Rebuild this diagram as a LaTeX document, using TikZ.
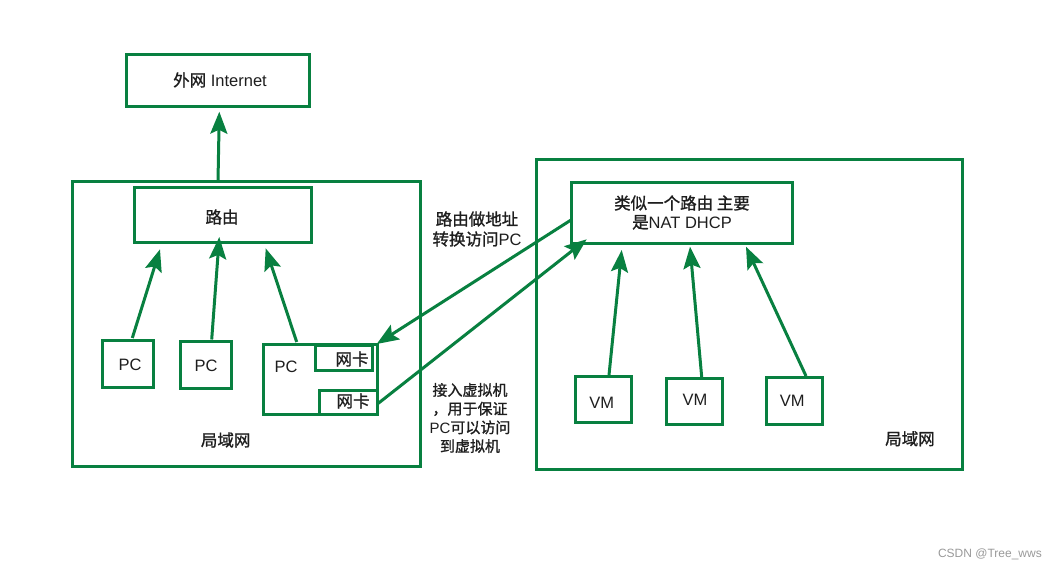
\documentclass[tikz,border=0pt]{standalone}
\usepackage{fontspec}
\setmainfont{Liberation Sans}
\newfontfamily\cjk[FakeBold=1.2]{Noto Sans CJK SC}
\usetikzlibrary{arrows.meta}
\definecolor{gr}{RGB}{8,128,64}
\definecolor{tx}{RGB}{30,30,30}
\tikzset{
  box/.style={draw=gr, line width=3pt, fill=none, inner sep=0pt},
  lbl/.style={text=tx, font=\fontsize{16.5}{19}\selectfont, inner sep=0pt, align=center},
  conn/.style={draw=gr, line width=3pt, -{Stealth[length=22pt,width=17pt,inset=4pt]}},
}
\begin{document}
\begin{tikzpicture}[x=1pt,y=-1pt]
\useasboundingbox (0,0) rectangle (1057,571);
% boxes
\node[box, minimum width=183, minimum height=52] (inet) at (217.5,80) {};
\node[box, minimum width=348.7, minimum height=285] (llan) at (246.4,323.8) {};
\node[box, minimum width=177.7, minimum height=55.3] (router) at (222.9,214.7) {};
\node[box, minimum width=51.7, minimum height=47.7] (pc1) at (127.9,363.9) {};
\node[box, minimum width=51.7, minimum height=47.4] (pc2) at (205.9,365) {};
\node[box, minimum width=114.3, minimum height=70] (pc3) at (320.2,379.7) {};
\node[box, minimum width=57, minimum height=25] (nic1) at (344.2,357.5) {};
\node[box, minimum width=57.6, minimum height=24.4] (nic2) at (348.5,402.5) {};
\node[box, minimum width=426, minimum height=310] (rlan) at (749.7,314.3) {};
\node[box, minimum width=221.7, minimum height=61] (nat) at (681.9,212.8) {};
\node[box, minimum width=56.7, minimum height=46.4] (vm1) at (603.4,399.5) {};
\node[box, minimum width=56.7, minimum height=46] (vm2) at (694.4,401.3) {};
\node[box, minimum width=56.7, minimum height=46.7] (vm3) at (794.4,400.7) {};
% texts
\node[lbl] (tinet) at (220,80) {{\cjk 外网} Internet};
\node[lbl] (trouter) at (222,217) {\cjk 路由};
\node[lbl] (tpc1) at (130,365) {PC};
\node[lbl] (tpc2) at (206,366) {PC};
\node[lbl] (tpc3) at (286,367) {PC};
\node[lbl] (tnic1) at (352,359) {\cjk 网卡};
\node[lbl] (tnic2) at (353,401) {\cjk 网卡};
\node[lbl] (tllan) at (225.7,440) {\cjk 局域网};
\node[lbl] (tnat) at (682,212.5) {{\cjk 类似一个路由 主要}\\{\cjk 是}NAT DHCP};
\node[lbl] (tvm1) at (601.7,402.7) {VM};
\node[lbl] (tvm2) at (695,400) {VM};
\node[lbl] (tvm3) at (792.3,400.7) {VM};
\node[lbl] (trlan) at (910,438.7) {\cjk 局域网};
\node[lbl, font=\fontsize{16.5}{20}\selectfont] (tnote1) at (477,229) {{\cjk 路由做地址}\\{\cjk 转换访问}PC};
\node[lbl, font=\fontsize{15}{18.7}\selectfont] (tnote2) at (470,418) {{\cjk 接入虚拟机}\\{\cjk ，用于保证}\\PC{\cjk 可以访问}\\{\cjk 到虚拟机}};
\node[text=black!40, font=\fontsize{12}{14}\selectfont, anchor=east, inner sep=0pt] (wm) at (1042,554.3) {CSDN @Tree\_wws};
% connector end points
\coordinate (a0s) at (218,181.3);   \coordinate (a0e) at (219.3,111.7);
\coordinate (p1s) at (132.3,338);   \coordinate (p1e) at (160,249.3);
\coordinate (p2s) at (211.7,339.5); \coordinate (p2e) at (219.3,237);
\coordinate (p3s) at (296.7,342);   \coordinate (p3e) at (265.7,248.3);
\coordinate (c1s) at (571,220);     \coordinate (c1e) at (376.7,344);
\coordinate (c2s) at (378.3,403.3); \coordinate (c2e) at (586.7,239.3);
\coordinate (v1s) at (609,375);     \coordinate (v1e) at (621.7,250);
\coordinate (v2s) at (701.7,377);   \coordinate (v2e) at (690,246.7);
\coordinate (v3s) at (806,376);     \coordinate (v3e) at (746,246.7);
% connectors
\draw[conn] (a0s) -- (a0e);
\draw[conn] (p1s) -- (p1e);
\draw[conn] (p2s) -- (p2e);
\draw[conn] (p3s) -- (p3e);
\draw[conn] (c1s) -- (c1e);
\draw[conn] (c2s) -- (c2e);
\draw[conn] (v1s) -- (v1e);
\draw[conn] (v2s) -- (v2e);
\draw[conn] (v3s) -- (v3e);
\end{tikzpicture}
\end{document}
